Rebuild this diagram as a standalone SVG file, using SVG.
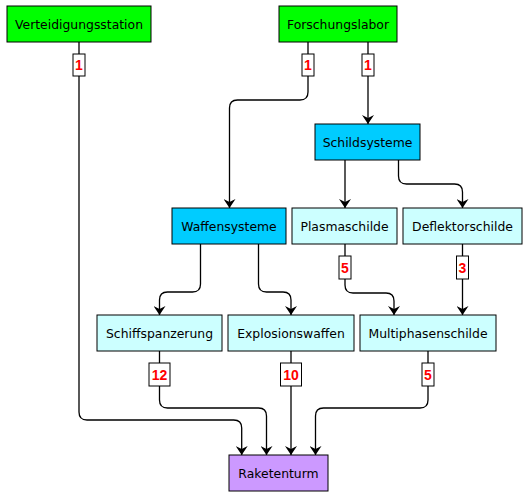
<svg xmlns="http://www.w3.org/2000/svg" width="528" height="498" viewBox="0 0 528 498">
<style>
.n rect{stroke:#000;stroke-width:1}
.n text{font-family:"DejaVu Sans",Verdana,sans-serif;font-size:12.4px;fill:#000;text-anchor:middle}
.g{fill:#00ff00}.b{fill:#00ccff}.c{fill:#ccffff}.p{fill:#cc99ff}
.e path{fill:none;stroke:#000;stroke-width:1.3;marker-end:url(#ah)}
.l rect{fill:#fff;stroke:#000;stroke-width:1}
.l text{font-family:"Liberation Sans",Arial,sans-serif;font-size:14px;font-weight:bold;fill:#ff0000;text-anchor:middle}
</style>
<defs>
<marker id="ah" markerUnits="userSpaceOnUse" markerWidth="9" markerHeight="12" viewBox="0 0 9 12" refX="9" refY="6" orient="auto">
<path d="M0,0 L9,6 L0,12 L3,6 z" fill="#000"/>
</marker>
</defs>
<rect width="528" height="498" fill="#fff"/>
<g id="connectors" class="e">
<path d="M79,42 V412 Q79,420 87,420 H233.7 Q241.7,420 241.7,428 V455"/>
<path d="M308,42 V92 Q308,100 300,100 H237.5 Q229.5,100 229.5,108 V208"/>
<path d="M368,42 V124"/>
<path d="M345,160 V208"/>
<path d="M398.5,160 V176 Q398.5,184 406.5,184 H454.5 Q462.5,184 462.5,192 V208"/>
<path d="M200.5,244 V284 Q200.5,292 192.5,292 H167.5 Q159.5,292 159.5,300 V315"/>
<path d="M258.5,244 V284 Q258.5,292 266.5,292 H283 Q291,292 291,300 V315"/>
<path d="M345,244 V285 Q345,293 353,293 H386 Q394,293 394,301 V315"/>
<path d="M462.5,244 V315"/>
<path d="M159.5,351 V400 Q159.5,408 167.5,408 H258.5 Q266.5,408 266.5,416 V455"/>
<path d="M291,351 V455"/>
<path d="M428,351 V400 Q428,408 420,408 H323.5 Q315.5,408 315.5,416 V455"/>
</g>
<g id="labels" class="l">
<rect x="73" y="54" width="12" height="22"/><text x="79" y="70">1</text>
<rect x="302" y="54" width="12" height="22"/><text x="308" y="70">1</text>
<rect x="362" y="54" width="12" height="22"/><text x="368" y="70">1</text>
<rect x="339" y="256" width="12" height="23"/><text x="345" y="272.5">5</text>
<rect x="456.5" y="256" width="12" height="23"/><text x="462.5" y="272.5">3</text>
<rect x="149" y="363" width="21" height="23"/><text x="159.5" y="379.5">12</text>
<rect x="280.5" y="363" width="21" height="23"/><text x="291" y="379.5">10</text>
<rect x="422" y="363" width="12" height="23"/><text x="428" y="379.5">5</text>
</g>
<g id="verteidigungsstation" class="n"><rect class="g" x="7" y="6" width="144" height="36"/><text x="79" y="29">Verteidigungsstation</text></g>
<g id="forschungslabor" class="n"><rect class="g" x="279" y="6" width="118" height="36"/><text x="338" y="29">Forschungslabor</text></g>
<g id="schildsysteme" class="n"><rect class="b" x="315" y="124" width="105" height="36"/><text x="367.5" y="147">Schildsysteme</text></g>
<g id="waffensysteme" class="n"><rect class="b" x="172" y="208" width="114" height="36"/><text x="229" y="231">Waffensysteme</text></g>
<g id="plasmaschilde" class="n"><rect class="c" x="292" y="208" width="105" height="36"/><text x="344.5" y="231">Plasmaschilde</text></g>
<g id="deflektorschilde" class="n"><rect class="c" x="403" y="208" width="119" height="36"/><text x="462.5" y="231">Deflektorschilde</text></g>
<g id="schiffspanzerung" class="n"><rect class="c" x="97" y="315" width="125" height="36"/><text x="159.5" y="338">Schiffspanzerung</text></g>
<g id="explosionswaffen" class="n"><rect class="c" x="228" y="315" width="126" height="36"/><text x="291" y="338">Explosionswaffen</text></g>
<g id="multiphasenschilde" class="n"><rect class="c" x="360" y="315" width="136" height="36"/><text x="428" y="338">Multiphasenschilde</text></g>
<g id="raketenturm" class="n"><rect class="p" x="229" y="455" width="99" height="36"/><text x="278.5" y="478">Raketenturm</text></g>
</svg>
